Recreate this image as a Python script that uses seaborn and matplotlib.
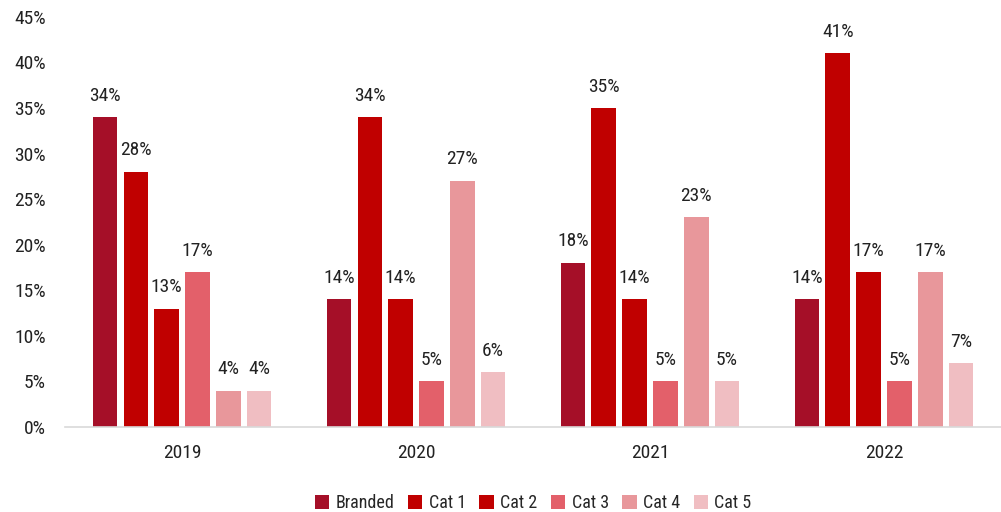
import matplotlib
matplotlib.use("Agg")
import matplotlib.pyplot as plt
import seaborn as sns
import pandas as pd
from matplotlib.ticker import FuncFormatter

years = ["2019", "2020", "2021", "2022"]
series = ["Branded", "Cat 1", "Cat 2", "Cat 3", "Cat 4", "Cat 5"]
branded = [34, 14, 18, 14]
cat1 = [28, 34, 35, 41]
cat2 = [13, 14, 14, 17]
cat3 = [17, 5, 5, 5]
cat4 = [4, 27, 23, 17]
cat5 = [4, 6, 5, 7]
colors = ["#A50F28", "#C00000", "#C00000", "#E3606A", "#E8979B", "#F0BEC2"]

values = [branded, cat1, cat2, cat3, cat4, cat5]
rows = []
for s, vals in zip(series, values):
    for y, v in zip(years, vals):
        rows.append({"Year": y, "Series": s, "Value": v})
df = pd.DataFrame(rows)

sns.set_theme(style="white")
plt.rcParams["font.family"] = ["Roboto Condensed", "Liberation Sans Narrow", "Roboto", "DejaVu Sans"]

fig, ax = plt.subplots(figsize=(10.01, 5.12), dpi=100)
fig.subplots_adjust(left=0.065, right=1.0, top=0.967, bottom=0.166)

sns.barplot(data=df, x="Year", y="Value", hue="Series", hue_order=series,
            order=years, palette=dict(zip(series, colors)), width=0.79, gap=0.2,
            ax=ax, legend=True, saturation=1, linewidth=0)

for cont in ax.containers:
    ax.bar_label(cont, fmt="%.0f%%", padding=9, fontsize=14, color="#222222")

ax.set_ylim(0, 45)
ax.set_yticks(range(0, 46, 5))
ax.yaxis.set_major_formatter(FuncFormatter(lambda v, p: f"{v:.0f}%"))
ax.set_xlim(-0.5, 3.5)
ax.set_xlabel("")
ax.set_ylabel("")
ax.tick_params(axis="both", labelsize=14, colors="#222222", length=0)
ax.tick_params(axis="x", pad=12)
ax.tick_params(axis="y", pad=14)
for sp in ["top", "right", "left"]:
    ax.spines[sp].set_visible(False)
ax.spines["bottom"].set_color("#D9D9D9")
ax.spines["bottom"].set_linewidth(1.2)

leg = ax.legend(loc="center", bbox_to_anchor=(0.5, -0.185), ncol=6, frameon=False,
                fontsize=13, handlelength=0.8, handleheight=0.8, handletextpad=0.35,
                columnspacing=0.75)

fig.savefig("out.png", dpi=100)
